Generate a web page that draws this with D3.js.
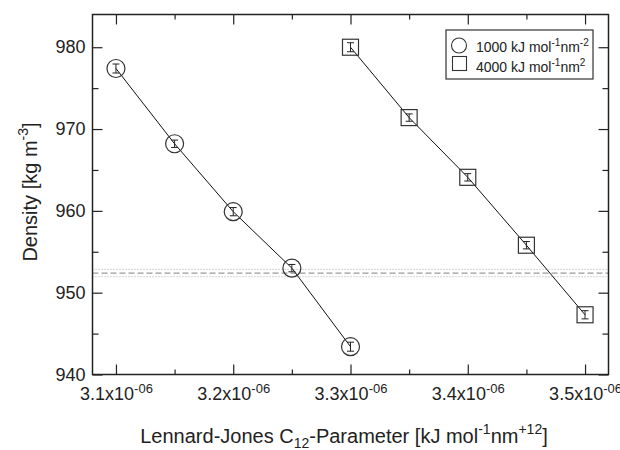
<!DOCTYPE html>
<html>
<head>
<meta charset="utf-8">
<script src="https://cdn.jsdelivr.net/npm/d3@7"></script>
<style>
  body { margin: 0; background: #fff; }
  text { font-family: "Liberation Sans", Arial, sans-serif; fill: #222; }
</style>
</head>
<body>
<script>
var width = 620,
    height = 450;

// C12 parameter (kJ mol^-1 nm^12) and density (kg m^-3)
var c12Circle = [3.10e-6, 3.15e-6, 3.20e-6, 3.25e-6, 3.30e-6];
var densCircle = [977.4, 968.2, 959.9, 953.0, 943.4];
var errCircle = [0.55, 0.45, 0.5, 0.45, 0.55];

var c12Square = [3.30e-6, 3.35e-6, 3.40e-6, 3.45e-6, 3.50e-6];
var densSquare = [980.0, 971.4, 964.1, 955.8, 947.3];
var errSquare = [0.55, 0.45, 0.45, 0.45, 0.5];

var refDensity = 952.4,
    refErr = 0.45;

var xMajor = [3.1e-6, 3.2e-6, 3.3e-6, 3.4e-6, 3.5e-6];
var xMinor = [3.15e-6, 3.25e-6, 3.35e-6, 3.45e-6];
var xTickLabels = ["3.1x10", "3.2x10", "3.3x10", "3.4x10", "3.5x10"];
var yMajor = [940, 950, 960, 970, 980];
var yMinor = [945, 955, 965, 975];

var legendLabels = [
  ["1000 kJ mol", "-1", "nm", "-2"],
  ["4000 kJ mol", "-1", "nm", "2"]
];

var margin = {left: 92.5, right: 11.5, top: 14.5, bottom: 75.5};
var x = d3.scaleLinear().domain([3.08e-6, 3.52e-6]).range([margin.left, width - margin.right]);
var y = d3.scaleLinear().domain([940, 984]).range([height - margin.bottom, margin.top]);

var svg = d3.select("body").append("svg")
    .attr("width", width)
    .attr("height", height);

var pBottom = y.range()[0], pTop = y.range()[1];
var pLeft = x.range()[0], pRight = x.range()[1];

// reference density lines
svg.append("line")
    .attr("x1", pLeft).attr("x2", pRight)
    .attr("y1", y(refDensity)).attr("y2", y(refDensity))
    .style("stroke", "#999").style("stroke-width", 1.3)
    .style("stroke-dasharray", "6,3");
[refDensity + refErr, refDensity - refErr].forEach(function(v) {
  svg.append("line")
      .attr("x1", pLeft).attr("x2", pRight)
      .attr("y1", y(v)).attr("y2", y(v))
      .style("stroke", "#aaa").style("stroke-width", 1)
      .style("stroke-dasharray", "1,2");
});

// axes with inward ticks
function styleAxis(g) {
  g.select(".domain").remove();
  g.selectAll("line").style("stroke", "#222").style("stroke-width", 1.2);
}

svg.append("g").attr("transform", "translate(0," + pBottom + ")")
    .call(d3.axisBottom(x).tickValues(xMinor).tickSize(-5).tickFormat(""))
    .call(styleAxis);
svg.append("g").attr("transform", "translate(0," + pTop + ")")
    .call(d3.axisTop(x).tickValues(xMinor).tickSize(-5).tickFormat(""))
    .call(styleAxis);
svg.append("g").attr("transform", "translate(0," + pTop + ")")
    .call(d3.axisTop(x).tickValues(xMajor).tickSize(-10).tickFormat(""))
    .call(styleAxis);

var xAxis = svg.append("g").attr("transform", "translate(0," + pBottom + ")")
    .call(d3.axisBottom(x).tickValues(xMajor).tickSize(-10).tickPadding(8).tickFormat(""))
    .call(styleAxis);
xAxis.selectAll(".tick text").each(function(d, i) {
  var t = d3.select(this).attr("font-size", 18).attr("font-family", null)
      .attr("dy", "0.95em").attr("fill", "#222");
  t.append("tspan").text(xTickLabels[i]);
  t.append("tspan").attr("dy", "-0.5em").attr("font-size", 13).text("-06");
});

svg.append("g").attr("transform", "translate(" + pLeft + ",0)")
    .call(d3.axisLeft(y).tickValues(yMinor).tickSize(-6).tickFormat(""))
    .call(styleAxis);
svg.append("g").attr("transform", "translate(" + pRight + ",0)")
    .call(d3.axisRight(y).tickValues(yMinor).tickSize(-6).tickFormat(""))
    .call(styleAxis);
svg.append("g").attr("transform", "translate(" + pRight + ",0)")
    .call(d3.axisRight(y).tickValues(yMajor).tickSize(-10).tickFormat(""))
    .call(styleAxis);
var yAxis = svg.append("g").attr("transform", "translate(" + pLeft + ",0)")
    .call(d3.axisLeft(y).tickValues(yMajor).tickSize(-10).tickPadding(7).tickFormat(d3.format("d")))
    .call(styleAxis);
yAxis.selectAll(".tick text").attr("font-size", 18).attr("font-family", null).attr("fill", "#222");

// frame
svg.append("rect")
    .attr("x", pLeft).attr("y", pTop)
    .attr("width", pRight - pLeft).attr("height", pBottom - pTop)
    .style("fill", "none").style("stroke", "#222").style("stroke-width", 1.5);

// series
function drawSeries(xs, ys, es, shape) {
  var pts = xs.map(function(v, i) { return {x: v, y: ys[i], e: es[i]}; });
  svg.append("path")
      .datum(pts)
      .attr("d", d3.line().x(function(d) { return x(d.x); }).y(function(d) { return y(d.y); }))
      .style("fill", "none").style("stroke", "#111").style("stroke-width", 1);

  var g = svg.selectAll(".pt-" + shape).data(pts).enter().append("g")
      .attr("class", "pt-" + shape)
      .attr("transform", function(d) { return "translate(" + x(d.x) + "," + y(d.y) + ")"; });
  if (shape === "circle") {
    g.append("circle").attr("r", 9)
        .style("fill", "none").style("stroke", "#333").style("stroke-width", 1.2);
  } else {
    g.append("rect").attr("x", -8).attr("y", -8).attr("width", 16).attr("height", 16)
        .style("fill", "none").style("stroke", "#333").style("stroke-width", 1.2);
  }
  g.each(function(d) {
    var s = d3.select(this), h = y(d.y - d.e) - y(d.y);
    s.append("line").attr("x1", 0).attr("x2", 0).attr("y1", -h).attr("y2", h);
    s.append("line").attr("x1", -3.5).attr("x2", 3.5).attr("y1", -h).attr("y2", -h);
    s.append("line").attr("x1", -3.5).attr("x2", 3.5).attr("y1", h).attr("y2", h);
    s.selectAll("line").style("stroke", "#222").style("stroke-width", 1);
  });
}
drawSeries(c12Circle, densCircle, errCircle, "circle");
drawSeries(c12Square, densSquare, errSquare, "square");

// legend
var lg = svg.append("g").attr("transform", "translate(446,30)");
lg.append("rect").attr("width", 147).attr("height", 49)
    .style("fill", "#fff").style("stroke", "#333").style("stroke-width", 1.2);
lg.append("circle").attr("cx", 13).attr("cy", 15.5).attr("r", 7.5)
    .style("fill", "none").style("stroke", "#333").style("stroke-width", 1.1);
lg.append("rect").attr("x", 6.5).attr("y", 26.5).attr("width", 14).attr("height", 14)
    .style("fill", "none").style("stroke", "#333").style("stroke-width", 1.1);
legendLabels.forEach(function(l, i) {
  var t = lg.append("text").attr("x", 30).attr("y", 22 + i * 20).attr("font-size", 14);
  t.append("tspan").text(l[0]);
  t.append("tspan").attr("dy", -6).attr("font-size", 10).text(l[1]);
  t.append("tspan").attr("dy", 6).text(l[2]);
  t.append("tspan").attr("dy", -6).attr("font-size", 10).text(l[3]);
});

// axis titles
var xt = svg.append("text").attr("x", 344).attr("y", 443)
    .attr("text-anchor", "middle").attr("font-size", 20);
xt.append("tspan").text("Lennard-Jones C");
xt.append("tspan").attr("dy", 5).attr("font-size", 14).text("12");
xt.append("tspan").attr("dy", -5).text("-Parameter [kJ mol");
xt.append("tspan").attr("dy", -9).attr("font-size", 14).text("-1");
xt.append("tspan").attr("dy", 9).text("nm");
xt.append("tspan").attr("dy", -9).attr("font-size", 14).text("+12");
xt.append("tspan").attr("dy", 9).text("]");

var yt = svg.append("text")
    .attr("transform", "translate(37,192) rotate(-90)")
    .attr("text-anchor", "middle").attr("font-size", 20);
yt.append("tspan").text("Density [kg m");
yt.append("tspan").attr("dy", -9).attr("font-size", 14).text("-3");
yt.append("tspan").attr("dy", 9).text("]");
</script>
</body>
</html>
